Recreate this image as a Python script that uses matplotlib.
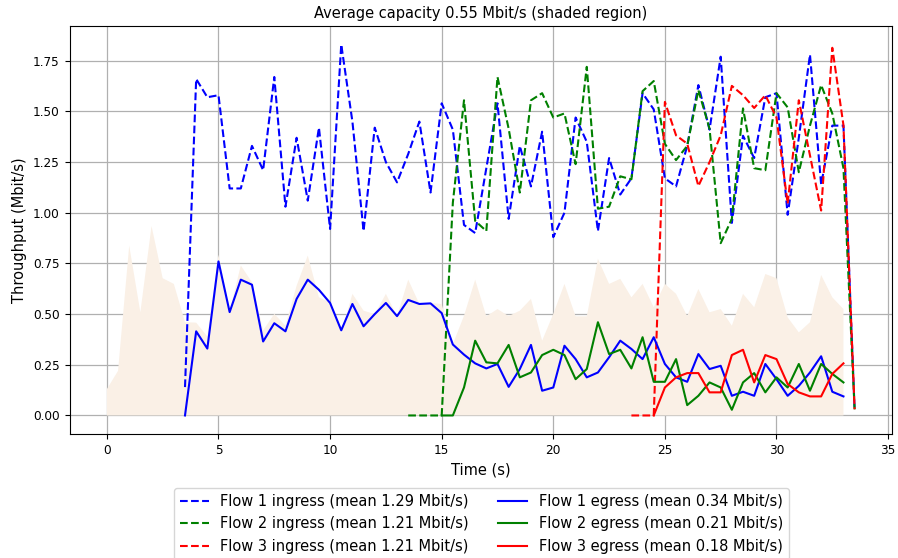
import numpy as np
import matplotlib
matplotlib.use("Agg")
import matplotlib.pyplot as plt

# sampling interval of the throughput log (s)
step = 0.5

# link capacity, sampled from t = 0
capacity_start = 0.0
capacity = [0.13, 0.22, 0.838, 0.509, 0.935, 0.677, 0.649, 0.46, 0.458, 0.39,
            0.793, 0.515, 0.74, 0.657, 0.42, 0.501, 0.443, 0.64, 0.789, 0.583,
            0.557, 0.405, 0.6, 0.517, 0.5, 0.6, 0.49, 0.67, 0.55, 0.555,
            0.55, 0.352, 0.492, 0.67, 0.489, 0.525, 0.49, 0.517, 0.575, 0.369,
            0.501, 0.649, 0.489, 0.489, 0.773, 0.649, 0.674, 0.583, 0.649, 0.534,
            0.649, 0.6, 0.49, 0.624, 0.509, 0.525, 0.443, 0.6, 0.534, 0.698,
            0.677, 0.484, 0.41, 0.46, 0.693, 0.583, 0.525]
avg_capacity = 0.55

# per-flow ingress / egress throughput (Mbit/s)
flow1_in_start = 3.5
flow1_in = [0.14, 1.66, 1.57, 1.58, 1.12, 1.12, 1.33, 1.21, 1.67, 1.03,
            1.37, 1.06, 1.42, 0.92, 1.83, 1.45, 0.91, 1.42, 1.25, 1.15,
            1.29, 1.45, 1.10, 1.54, 1.41, 0.94, 0.90, 1.22, 1.54, 0.97,
            1.33, 1.13, 1.40, 0.88, 1.00, 1.47, 1.35, 0.91, 1.27, 1.09,
            1.17, 1.59, 1.51, 1.17, 1.13, 1.33, 1.63, 1.41, 1.77, 0.95,
            1.38, 1.27, 1.57, 1.59, 0.99, 1.37, 1.78, 1.14, 1.43, 1.43,
            0.03]
flow1_out_start = 3.5
flow1_out = [0.0, 0.415, 0.33, 0.76, 0.51, 0.67, 0.645, 0.365, 0.455, 0.415,
             0.575, 0.67, 0.62, 0.555, 0.42, 0.55, 0.44, 0.50, 0.555, 0.49,
             0.57, 0.55, 0.553, 0.505, 0.35, 0.30, 0.257, 0.232, 0.254, 0.141,
             0.229, 0.348, 0.122, 0.138, 0.344, 0.278, 0.188, 0.212, 0.287, 0.369,
             0.328, 0.278, 0.386, 0.254, 0.188, 0.166, 0.303, 0.229, 0.245, 0.097,
             0.117, 0.097, 0.254, 0.179, 0.097, 0.146, 0.212, 0.292, 0.117, 0.094]

flow2_in_start = 13.5
flow2_in = [0.0, 0.0, 0.0, 0.0, 1.05, 1.555, 0.96, 0.91, 1.67, 1.415,
            1.10, 1.555, 1.59, 1.47, 1.49, 1.24, 1.72, 1.02, 1.03, 1.18,
            1.165, 1.60, 1.65, 1.34, 1.26, 1.33, 1.605, 1.415, 0.85, 0.97,
            1.515, 1.22, 1.21, 1.59, 1.52, 1.20, 1.43, 1.63, 1.49, 1.22,
            0.03]
flow2_out_start = 15.0
flow2_out = [0.0, 0.0, 0.138, 0.369, 0.262, 0.257, 0.348, 0.188, 0.212, 0.298,
             0.324, 0.298, 0.179, 0.229, 0.46, 0.303, 0.324, 0.232, 0.386, 0.166,
             0.166, 0.278, 0.051, 0.097, 0.163, 0.138, 0.028, 0.163, 0.209, 0.114,
             0.188, 0.138, 0.254, 0.122, 0.254, 0.205, 0.163]

flow3_in_start = 23.5
flow3_in = [0.0, 0.0, 0.0, 1.547, 1.382, 1.341, 1.132, 1.25, 1.382, 1.626,
            1.58, 1.517, 1.58, 1.47, 1.045, 1.555, 1.283, 1.011, 1.814, 1.432,
            0.031]
flow3_out_start = 24.5
flow3_out = [0.0, 0.138, 0.188, 0.209, 0.209, 0.114, 0.114, 0.298, 0.324, 0.163,
             0.298, 0.278, 0.155, 0.114, 0.094, 0.094, 0.205, 0.257]

ingress_means = [1.29, 1.21, 1.21]
egress_means = [0.34, 0.21, 0.18]
colors = ["b", "g", "r"]


def times(start, values):
    return start + step * np.arange(len(values))


fig = plt.figure(figsize=(8.98, 5.58), dpi=100)
ax = fig.add_axes([69.5 / 898, 1 - 434 / 558, 822.5 / 898, 408 / 558])

ax.fill_between(times(capacity_start, capacity), 0, capacity,
                facecolor="linen", zorder=1)

ingress = [(flow1_in_start, flow1_in), (flow2_in_start, flow2_in),
           (flow3_in_start, flow3_in)]
egress = [(flow1_out_start, flow1_out), (flow2_out_start, flow2_out),
          (flow3_out_start, flow3_out)]

for i, (start, vals) in enumerate(ingress):
    ax.plot(times(start, vals), vals, color=colors[i], linestyle="--",
            linewidth=1.5, zorder=3,
            label="Flow %d ingress (mean %.2f Mbit/s)" % (i + 1, ingress_means[i]))
for i, (start, vals) in enumerate(egress):
    ax.plot(times(start, vals), vals, color=colors[i], linestyle="-",
            linewidth=1.5, zorder=3,
            label="Flow %d egress (mean %.2f Mbit/s)" % (i + 1, egress_means[i]))

ax.set_xlim(-1.675, 35.175)
ax.set_ylim(-0.0915, 1.9215)
ax.set_yticks(np.arange(0, 1.76, 0.25))
ax.tick_params(labelsize=8.7)
ax.grid(True, color="#b0b0b0", linewidth=0.9, zorder=0)
ax.set_axisbelow(True)

ax.set_title("Average capacity %.2f Mbit/s (shaded region)" % avg_capacity,
             fontsize=10.5)
ax.set_xlabel("Time (s)", fontsize=10.5)
ax.set_ylabel("Throughput (Mbit/s)", fontsize=10.5)

ax.legend(loc="upper center", bbox_to_anchor=(481.5 / 898, 1 - 481 / 558),
          bbox_transform=fig.transFigure, ncol=2, fontsize=10.5)

fig.savefig("out.png", dpi=100)
